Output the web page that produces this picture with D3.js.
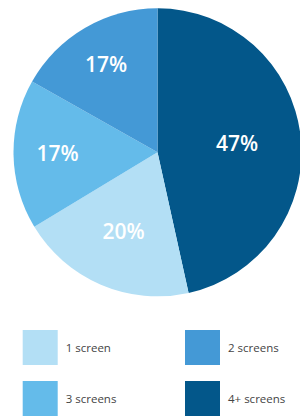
<!DOCTYPE html>
<html><head><meta charset="utf-8">
<script src="https://cdn.jsdelivr.net/npm/d3@7"></script>
<style>html,body{margin:0;padding:0;background:#fff;}svg{display:block;}</style>
</head><body>
<svg id="chart" width="300" height="417"></svg>
<script>
// Data (clockwise from 12 o'clock)
const categories = ["4+ screens", "1 screen", "3 screens", "2 screens"];
const values = [47, 20, 17, 17];
const labels = ["47%", "20%", "17%", "17%"];
const colors = ["#03578a", "#b3dff5", "#64bbea", "#4499d6"];
// legend order
const legendOrder = ["1 screen", "2 screens", "3 screens", "4+ screens"];
// label radial distance (layout)
const labelRadius = [80, 86, 100, 102];

const svg = d3.select("#chart");
const cx = 157.5, cy = 152.3, R = 144;
const g = svg.append("g").attr("transform", `translate(${cx},${cy})`);

const pie = d3.pie().value(d => d).sort(null);
const arcs = pie(values);
const arc = d3.arc().innerRadius(0).outerRadius(R);

g.selectAll("path.slice").data(arcs).enter().append("path")
  .attr("class", "slice")
  .attr("d", arc)
  .attr("fill", (d, i) => colors[i]);

g.selectAll("text.lbl").data(arcs).enter().append("text")
  .attr("class", "lbl")
  .attr("transform", (d, i) => {
    const a = d3.arc().innerRadius(labelRadius[i]).outerRadius(labelRadius[i]);
    const c = a.centroid(d);
    return `translate(${c[0]},${c[1]})`;
  })
  .attr("text-anchor", "middle")
  .attr("dy", "0.36em")
  .attr("fill", "#fff")
  .style("font-family", "'Open Sans', sans-serif")
  .style("font-weight", "600")
  .style("font-size", "21px")
  .text((d, i) => labels[i]);

// Legend
const colorOf = c => colors[categories.indexOf(c)];
const lx = d3.scaleOrdinal().domain([0, 1]).range([22.7, 185]);
const ly = d3.scaleOrdinal().domain([0, 1]).range([330, 381]);
const leg = svg.selectAll("g.leg").data(legendOrder).enter().append("g")
  .attr("class", "leg")
  .attr("transform", (d, i) => `translate(${lx(i % 2)},${ly(Math.floor(i / 2))})`);
leg.append("rect").attr("width", 35).attr("height", 35).attr("fill", d => colorOf(d));
leg.append("text").attr("x", 43).attr("y", 21.5)
  .attr("fill", "#444")
  .style("font-family", "'Open Sans', sans-serif")
  .style("font-size", "11.5px")
  .text(d => d);
</script>
</body></html>
